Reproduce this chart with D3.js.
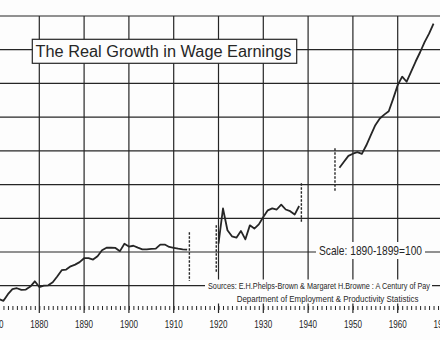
<!DOCTYPE html>
<html><head><meta charset="utf-8">
<script src="https://cdn.jsdelivr.net/npm/d3@7"></script>
<style>
html,body{margin:0;padding:0;background:#fff;}
svg{display:block;}
</style></head>
<body>
<script>
// ---- data ----
const years1 = d3.range(1870, 1914);
const wages1 = [73,72,71,75,78,78.5,77.5,77.7,79.5,82.6,79.2,80,80.2,82,85.5,89.2,89.6,91.5,92.5,94,
  96.3,96.3,95.5,97.5,101,102.5,102.5,102.4,100.5,104.9,103.2,103.7,102.6,101.6,101.5,101.8,102,104.4,104.4,103,
  102.5,102,101.6,101.4];
const years2 = d3.range(1920, 1939);
const wages2 = [105,125.8,112.9,109.3,108.5,112.5,107.5,115.8,113.9,116.4,120.8,124.7,125.9,125.2,128.1,125.2,124.2,122.2,127.3];
const years3 = d3.range(1947, 1969);
const wages3 = [150,153.5,157,158.3,159.2,158.2,163.3,169.3,175.2,179.2,181.5,183.5,191,199,204,201,207,213,218.5,224.5,229.5,235.5];
const decadeLabels = ["1870","1880","1890","1900","1910","1920","1930","1940","1950","1960","1970"];
const gridValues = [80,100,120,140,160,180,200,220,240];
const breakYears = [1913.5, 1919.5, 1938.5, 1946];
const breakLow = [82.8, 87.9, 117, 135.4];
const breakHigh = [111.7, 115.8, 140.8, 161.5];
const titleText = "The Real Growth in Wage Earnings";
const scaleText = "Scale: 1890-1899=100";
const sourceLine1 = "Sources: E.H.Phelps-Brown & Margaret H.Browne : A Century of Pay";
const sourceLine2 = "Department of Employment & Productivity Statistics";

const W = 440, H = 340, ink = "#262626", paper = "#fdfdfd";
const narrow = "'Liberation Sans',Arial,sans-serif";
const svg = d3.select("body").append("svg").attr("width", W).attr("height", H);
svg.append("rect").attr("width", W).attr("height", H).attr("fill", paper);

const x = d3.scaleLinear().domain([1880, 1960]).range([39.3, 397.7]);
const y = d3.scaleLinear().domain([80, 240]).range([285.7, 16]);

// horizontal grid
svg.append("g").selectAll("line").data(gridValues).join("line")
  .attr("x1", 0).attr("x2", W).attr("y1", d => y(d)).attr("y2", d => y(d))
  .attr("stroke", ink).attr("stroke-width", 1.2);
// vertical grid
const decades = decadeLabels.map(Number);
svg.append("g").selectAll("line").data(decades).join("line")
  .attr("x1", d => x(d)).attr("x2", d => x(d)).attr("y1", y(240)).attr("y2", 313)
  .attr("stroke", ink).attr("stroke-width", 1.2);

// bottom axis with annual ticks
const axis = d3.axisBottom(x)
  .tickValues(d3.range(1870, 1971))
  .tickSize(4)
  .tickFormat("");
const ax = svg.append("g").attr("transform", "translate(0,306)").call(axis);
ax.select(".domain").remove();
ax.selectAll(".tick line").attr("stroke", ink).attr("stroke-width", 1);
svg.append("g").selectAll("text").data(decadeLabels).join("text")
  .attr("x", d => x(+d) - 9).attr("y", 327.5)
  .attr("textLength", 18).attr("lengthAdjust", "spacingAndGlyphs")
  .attr("font-family", narrow)
  .attr("font-size", 10.5).attr("fill", ink).text(d => d);

// break markers
svg.append("g").selectAll("line").data(breakYears).join("line")
  .attr("x1", d => x(d)).attr("x2", d => x(d))
  .attr("y1", (d, i) => y(breakHigh[i])).attr("y2", (d, i) => y(breakLow[i]))
  .attr("stroke", ink).attr("stroke-width", 1.4).attr("stroke-dasharray", "2.5,1.5");

// series
const line = d3.line().x(d => x(d[0])).y(d => y(d[1]));
[[years1, wages1], [years2, wages2], [years3, wages3]].forEach(([ys, ws]) => {
  svg.append("path").datum(ys.map((yr, i) => [yr, ws[i]]))
    .attr("d", line).attr("fill", "none").attr("stroke", ink)
    .attr("stroke-width", 1.8).attr("stroke-linejoin", "round");
});

// title box
svg.append("rect").attr("x", 32.3).attr("y", 39.3).attr("width", 264.4).attr("height", 24)
  .attr("fill", paper).attr("stroke", ink).attr("stroke-width", 1.2);
svg.append("text").attr("x", 35.5).attr("y", 56.5).attr("font-family", "'Liberation Sans',Arial,sans-serif")
  .attr("textLength", 256).attr("lengthAdjust", "spacingAndGlyphs")
  .attr("font-size", 16).attr("fill", ink).text(titleText);

// scale note
svg.append("rect").attr("x", 316).attr("y", 242).attr("width", 109).attr("height", 17).attr("fill", paper);
svg.append("text").attr("x", 319).attr("y", 254.5)
  .attr("textLength", 103).attr("lengthAdjust", "spacingAndGlyphs")
  .attr("font-family", narrow)
  .attr("font-size", 13.5).attr("fill", ink).text(scaleText);

// sources
svg.append("rect").attr("x", 205).attr("y", 279.5).attr("width", 227).attr("height", 24).attr("fill", paper);
svg.append("text").attr("x", 208).attr("y", 289)
  .attr("textLength", 222).attr("lengthAdjust", "spacingAndGlyphs")
  .attr("font-family", narrow)
  .attr("font-size", 9).attr("fill", ink).text(sourceLine1);
svg.append("text").attr("x", 236.7).attr("y", 302)
  .attr("textLength", 181.7).attr("lengthAdjust", "spacingAndGlyphs")
  .attr("font-family", narrow)
  .attr("font-size", 9).attr("fill", ink).text(sourceLine2);
</script>
</body></html>
